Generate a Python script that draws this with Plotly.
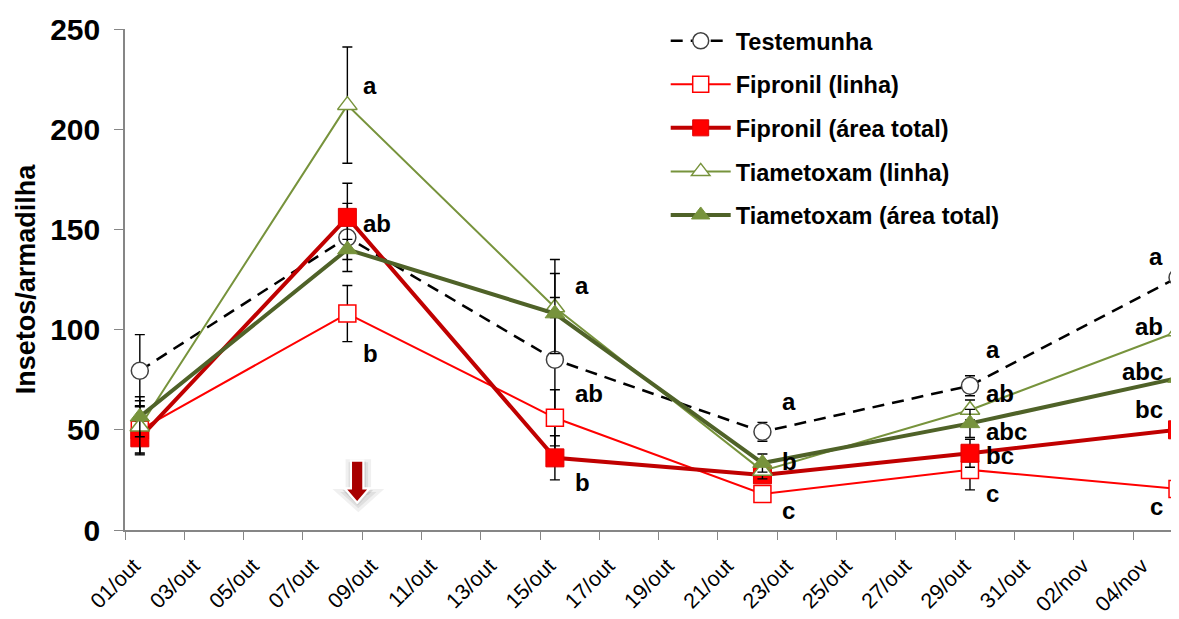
import plotly.graph_objects as go
import pandas as pd

# ---------------- data ----------------
sample_dates = ["2011-10-01", "2011-10-08", "2011-10-15", "2011-10-22", "2011-10-29", "2011-11-05"]
start_date = "2011-10-01"

series_names = ["Testemunha", "Fipronil (linha)", "Fipronil (área total)",
                "Tiametoxam (linha)", "Tiametoxam (área total)"]

testemunha = [79.5, 146, 85, 49, 72, 126]
testemunha_err = [18, 17, 50, 4.7, 5, 44]

fipronil_linha = [50, 108, 56, 18, 30, 20.5]
fipronil_linha_err = [12, 14, 14, 3, 10, 7]

fipronil_total = [46, 156, 36, 27.5, 38.3, 50]
fipronil_total_err = [8.5, 17, 11, 3, 7, 14.5]

tiametoxam_linha = [51.5, 212, 111, 29.5, 59.9, 99]
tiametoxam_linha_err = [13, 29, 5, 4, 5, 14]

tiametoxam_total = [56.5, 140, 108, 33.4, 53.2, 75.8]
tiametoxam_total_err = [10, 5, 20, 4.5, 7, 9]

tick_labels = ["01/out", "03/out", "05/out", "07/out", "09/out", "11/out", "13/out",
               "15/out", "17/out", "19/out", "21/out", "23/out", "25/out", "27/out",
               "29/out", "31/out", "02/nov", "04/nov"]

# significance letters: sample index, y value, text
letter_idx = [1, 1, 1, 2, 2, 2, 3, 3, 3, 4, 4, 4, 4, 4, 5, 5, 5, 5, 5]
letter_y = [222, 153, 88, 122, 68, 23.5, 64, 34, 9.5,
            90, 68, 49, 37.4, 18.3, 136.4, 101.5, 79, 60, 11.5]
letter_text = ["a", "ab", "b", "a", "ab", "b", "a", "b", "c",
               "a", "ab", "abc", "bc", "c", "a", "ab", "abc", "bc", "c"]

# ---------------- positions ----------------
t0 = pd.Timestamp(start_date)
# Excel date axis: points sit in the middle of their day
x_days = [(pd.Timestamp(d) - t0).days + 0.5 for d in sample_dates]
tick_days = [2 * i for i in range(len(tick_labels))]

FONT = "Arial, Liberation Sans, Helvetica, sans-serif"

styles = [
    dict(line=dict(color="#000000", width=2.5, dash="12px,8px"),
         marker=dict(symbol="circle", size=17, color="#FFFFFF",
                     line=dict(color="#404040", width=1.5))),
    dict(line=dict(color="#FF0000", width=2),
         marker=dict(symbol="square", size=17, color="#FFFFFF",
                     line=dict(color="#FF0000", width=1.5))),
    dict(line=dict(color="#C00000", width=4),
         marker=dict(symbol="square", size=18, color="#FF0000",
                     line=dict(color="#E00000", width=1))),
    dict(line=dict(color="#77933C", width=2),
         marker=dict(symbol="triangle-up", size=17, color="#FFFFFF",
                     line=dict(color="#77933C", width=1.5))),
    dict(line=dict(color="#4F6228", width=4),
         marker=dict(symbol="triangle-up", size=17, color="#77933C",
                     line=dict(color="#77933C", width=1))),
]

values = [testemunha, fipronil_linha, fipronil_total, tiametoxam_linha, tiametoxam_total]
errors = [testemunha_err, fipronil_linha_err, fipronil_total_err,
          tiametoxam_linha_err, tiametoxam_total_err]

fig = go.Figure()
for i, (name, vals, errs, st) in enumerate(zip(series_names, values, errors, styles)):
    fig.add_trace(go.Scatter(
        x=x_days, y=vals, name=name, mode="lines+markers",
        line=st["line"], marker=st["marker"],
        error_y=dict(type="data", array=errs, visible=True,
                     color="#000000", thickness=1.4, width=5),
        cliponaxis=False, legendgroup=f"g{i}",
    ))

# significance letters
letter_xshift = [0, 14, 18, 18, 14, -13]
for idx, yv, txt in zip(letter_idx, letter_y, letter_text):
    left = letter_xshift[idx] > 0
    fig.add_annotation(
        x=x_days[idx], y=yv, text=txt, showarrow=False,
        xanchor="left" if left else "right", yanchor="middle",
        xshift=letter_xshift[idx],
        font=dict(family=FONT, size=24, color="#000000", weight="bold"),
    )

# application arrow (decoration)
ax = 7.83
shaft_hw, head_hw = 0.21, 0.42
y_top, y_base, y_tip = 34.6, 20.8, 13.6
def arrow_path(dx=0.0, dy=0.0, grow=0.0):
    pts = [(ax - shaft_hw - grow, y_top + grow * 8), (ax + shaft_hw + grow, y_top + grow * 8),
           (ax + shaft_hw + grow, y_base), (ax + head_hw + grow * 1.6, y_base),
           (ax, y_tip - grow * 8), (ax - head_hw - grow * 1.6, y_base),
           (ax - shaft_hw - grow, y_base)]
    return "M " + " L ".join(f"{px + dx},{py + dy}" for px, py in pts) + " Z"

fig.add_shape(type="path", path=arrow_path(0.04, -1.8, 0.12), xref="x", yref="y",
              fillcolor="rgba(0,0,0,0.07)", line=dict(color="rgba(0,0,0,0.06)", width=6),
              layer="above")
fig.add_shape(type="path", path=arrow_path(0.02, -0.9, 0.06), xref="x", yref="y",
              fillcolor="rgba(0,0,0,0.10)", line=dict(color="rgba(0,0,0,0.0)", width=0),
              layer="above")
fig.add_shape(type="path", path=arrow_path(), xref="x", yref="y",
              fillcolor="#A80000", line=dict(color="#FFFFFF", width=2.2), layer="above")

# page body has an 8px margin: size the figure so the plot area lands where it should
fig.update_layout(
    width=1171, height=611,
    margin=dict(l=117, r=0, t=21, b=89, autoexpand=False),
    paper_bgcolor="#FFFFFF", plot_bgcolor="#FFFFFF",
    font=dict(family=FONT, color="#000000"),
    showlegend=True,
    legend=dict(
        x=0.513, y=1.02, xanchor="left", yanchor="top",
        bgcolor="rgba(0,0,0,0)", tracegroupgap=10, itemwidth=60,
        font=dict(family=FONT, size=23.5, color="#000000", weight="bold"),
    ),
    xaxis=dict(
        range=[0, 35.55], tickmode="array", tickvals=tick_days, ticktext=tick_labels,
        tickangle=-45, ticks="outside", ticklen=8, tickcolor="#868686", tickwidth=1.3,
        showline=True, linecolor="#868686", linewidth=1.5,
        showgrid=False, zeroline=False, automargin=False,
        ticklabelstandoff=5, ticklabelshift=9,
        tickfont=dict(family=FONT, size=21.5, color="#000000"),
    ),
    yaxis=dict(
        range=[0, 250], tickvals=[0, 50, 100, 150, 200, 250],
        ticks="outside", ticklen=9, tickcolor="#868686", tickwidth=1.3,
        showline=True, linecolor="#868686", linewidth=1.5,
        showgrid=False, zeroline=False, ticklabelstandoff=8, automargin=False,
        tickfont=dict(family=FONT, size=30, color="#000000", weight="bold"),
        title=dict(text="Insetos/armadilha", standoff=7,
                   font=dict(family=FONT, size=27, color="#000000", weight="bold")),
    ),
)

fig.write_html("out.html")
